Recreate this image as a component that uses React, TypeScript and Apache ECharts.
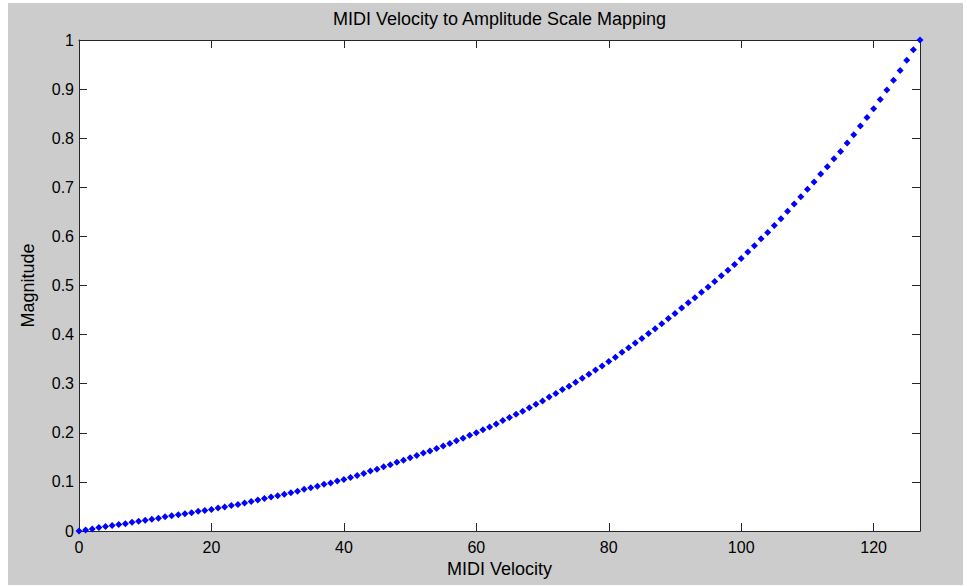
import React, { useEffect, useRef } from "react";
import * as echarts from "echarts";

const titleText = "MIDI Velocity to Amplitude Scale Mapping";
const xName = "MIDI Velocity";
const yName = "Magnitude";

// Magnitude read for each MIDI velocity 0..127 (index = velocity)
const magnitudes: number[] = [
  0.0, 0.002, 0.004, 0.007, 0.009, 0.011, 0.013, 0.015, 0.018, 0.02,
  0.022, 0.024, 0.026, 0.029, 0.031, 0.033, 0.035, 0.037, 0.04, 0.042,
  0.044, 0.047, 0.049, 0.052, 0.054, 0.057, 0.06, 0.063, 0.066, 0.069,
  0.072, 0.075, 0.078, 0.081, 0.085, 0.088, 0.091, 0.095, 0.098, 0.102,
  0.105, 0.109, 0.113, 0.117, 0.122, 0.126, 0.131, 0.135, 0.14, 0.144,
  0.149, 0.154, 0.159, 0.163, 0.168, 0.173, 0.178, 0.184, 0.189, 0.195,
  0.2, 0.206, 0.212, 0.218, 0.225, 0.231, 0.238, 0.244, 0.251, 0.258,
  0.265, 0.273, 0.28, 0.288, 0.295, 0.303, 0.311, 0.319, 0.328, 0.336,
  0.345, 0.354, 0.364, 0.373, 0.383, 0.392, 0.402, 0.412, 0.422, 0.433,
  0.443, 0.454, 0.465, 0.475, 0.486, 0.497, 0.508, 0.52, 0.531, 0.543,
  0.555, 0.568, 0.581, 0.595, 0.608, 0.622, 0.636, 0.651, 0.666, 0.681,
  0.696, 0.711, 0.727, 0.742, 0.758, 0.773, 0.79, 0.807, 0.825, 0.842,
  0.86, 0.879, 0.898, 0.918, 0.938, 0.959, 0.98, 1.0,
];

const xMin = 0;
const xMax = 127;
const xInterval = 20;
const yMin = 0;
const yMax = 1;
const yInterval = 0.1;

const FONT = "'Liberation Sans', Arial, Helvetica, sans-serif";
const AXIS_COLOR = "#262626";

const GRID = { left: 71, right: 43, top: 37, bottom: 54 };
const W = 955;
const H = 582;

function tick() {
  return {
    show: true,
    inside: true,
    length: 8,
    lineStyle: { color: AXIS_COLOR, width: 1 },
  };
}
function axLine() {
  return { show: true, onZero: false, lineStyle: { color: AXIS_COLOR, width: 1 } };
}

export default function App() {
  const ref = useRef<HTMLDivElement>(null);

  useEffect(() => {
    if (!ref.current) return;
    const chart = echarts.init(ref.current, undefined, { renderer: "svg" });
    const points = magnitudes.map((m, i) => [i, m]);

    chart.setOption({
      animation: false,
      backgroundColor: "#cccccc",
      textStyle: { fontFamily: FONT },
      title: {
        text: titleText,
        left: 491.5,
        top: 7,
        textAlign: "center",
        padding: 0,
        textStyle: { fontFamily: FONT, fontSize: 18, fontWeight: "normal", color: "#000" },
      },
      graphic: [
        {
          type: "rect",
          z: -10,
          silent: true,
          shape: {
            x: GRID.left,
            y: GRID.top,
            width: W - GRID.left - GRID.right,
            height: H - GRID.top - GRID.bottom,
          },
          style: { fill: "#ffffff" },
        },
      ],
      grid: { ...GRID, show: false },
      xAxis: [
        {
          type: "value",
          min: xMin,
          max: xMax,
          interval: xInterval,
          position: "bottom",
          name: xName,
          nameLocation: "middle",
          nameGap: 28,
          nameTextStyle: { fontFamily: FONT, fontSize: 18, color: "#000" },
          axisLine: axLine(),
          axisTick: tick(),
          splitLine: { show: false },
          axisLabel: {
            margin: 8,
            fontFamily: FONT,
            fontSize: 16,
            color: "#000",
            showMaxLabel: false,
          },
        },
        {
          type: "value",
          min: xMin,
          max: xMax,
          interval: xInterval,
          position: "top",
          axisLine: axLine(),
          axisTick: tick(),
          splitLine: { show: false },
          axisLabel: { show: false },
        },
      ],
      yAxis: [
        {
          type: "value",
          min: yMin,
          max: yMax,
          interval: yInterval,
          position: "left",
          name: yName,
          nameLocation: "middle",
          nameGap: 42,
          nameRotate: 90,
          nameTextStyle: { fontFamily: FONT, fontSize: 18, color: "#000" },
          axisLine: axLine(),
          axisTick: tick(),
          splitLine: { show: false },
          axisLabel: { margin: 5, fontFamily: FONT, fontSize: 16, color: "#000" },
        },
        {
          type: "value",
          min: yMin,
          max: yMax,
          interval: yInterval,
          position: "right",
          axisLine: axLine(),
          axisTick: tick(),
          splitLine: { show: false },
          axisLabel: { show: false },
        },
      ],
      series: [
        {
          type: "scatter",
          xAxisIndex: 0,
          yAxisIndex: 0,
          data: points,
          symbol: "diamond",
          symbolSize: 7,
          itemStyle: { color: "#0000ff", opacity: 1 },
          clip: false,
        },
      ],
    });

    return () => chart.dispose();
  }, []);

  return (
    <div
      ref={ref}
      style={{ position: "absolute", left: 8, top: 3, width: W, height: H }}
    />
  );
}
